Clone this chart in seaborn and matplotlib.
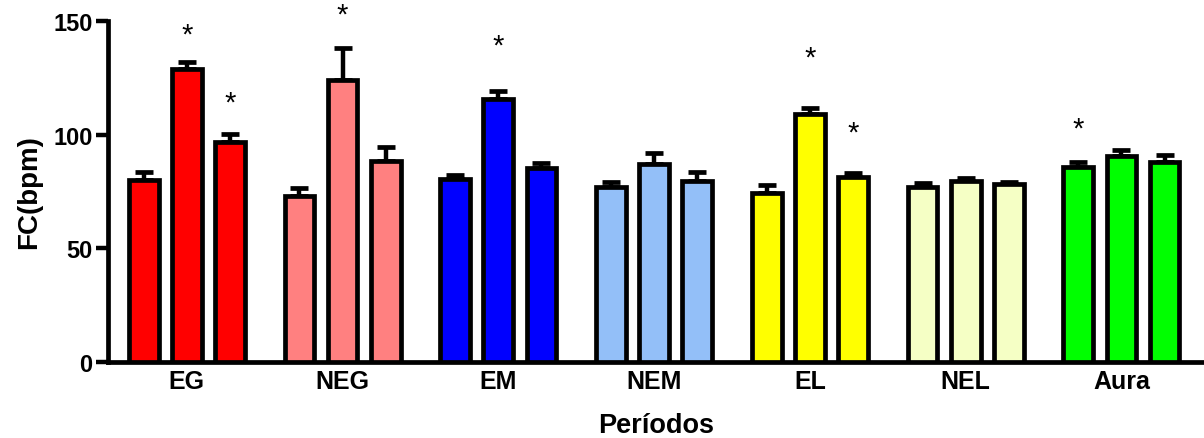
import numpy as np
import pandas as pd
import matplotlib
matplotlib.use("Agg")
import matplotlib.pyplot as plt
import seaborn as sns

# data
periods = ["EG", "NEG", "EM", "NEM", "EL", "NEL", "Aura"]
means_1 = [80.0, 73.2, 80.5, 77.1, 74.3, 77.1, 85.9]
means_2 = [129.0, 124.0, 115.7, 87.1, 109.1, 79.6, 90.7]
means_3 = [96.6, 88.4, 85.3, 79.6, 81.2, 78.1, 88.1]
sem_1 = [3.6, 3.5, 1.9, 2.2, 3.7, 1.5, 2.2]
sem_2 = [2.8, 14.0, 3.7, 4.7, 2.6, 1.2, 2.6]
sem_3 = [3.8, 6.2, 2.2, 3.8, 1.8, 1.2, 2.8]
group_colors = ["#FF0000", "#FF8080", "#0000FF", "#93BFF8",
                "#FFFF00", "#F5FFC5", "#00FF00"]
# (period index, bar index 0..2, height of asterisk)
stars = [(0, 1, 144.0), (0, 2, 114.2), (1, 1, 153.0), (2, 1, 139.3),
         (4, 1, 134.0), (4, 2, 101.0), (6, 0, 102.8)]

sns.set_style("white")
plt.rcParams["font.family"] = ["Liberation Sans", "DejaVu Sans"]
plt.rcParams["text.color"] = "black"
plt.rcParams["axes.labelcolor"] = "black"
plt.rcParams["xtick.color"] = "black"
plt.rcParams["ytick.color"] = "black"

df = pd.DataFrame({
    "periodo": periods * 3,
    "momento": ["1"] * 7 + ["2"] * 7 + ["3"] * 7,
    "fc": means_1 + means_2 + means_3,
})
sems = [sem_1, sem_2, sem_3]

fig = plt.figure(figsize=(12.04, 4.39), dpi=100)
ax = fig.add_axes([0.0897, 0.173, 0.9103, 0.777])

sns.barplot(data=df, x="periodo", y="fc", hue="momento", order=periods,
            width=0.83, gap=0.31, errorbar=None, legend=False,
            edgecolor="black", linewidth=3.4, ax=ax, zorder=3)

bar_conts = list(ax.containers)
for k, cont in enumerate(bar_conts):
    for i, bar in enumerate(cont.patches):
        bar.set_facecolor(group_colors[i])
        x = bar.get_x() + bar.get_width() / 2
        h = bar.get_height()
        ax.errorbar(x, h, yerr=[[0], [sems[k][i]]], fmt="none",
                    ecolor="black", elinewidth=3.2, capsize=6.5,
                    capthick=3.4, zorder=2)

for gi, bi, yy in stars:
    bar = bar_conts[bi].patches[gi]
    ax.text(bar.get_x() + bar.get_width() / 2, yy, "*", ha="center",
            va="center", fontsize=21, color="black", clip_on=False)

ax.set_xlim(-0.506, 6.53)
ax.set_ylim(0, 150)
ax.set_yticks([0, 50, 100, 150])
ax.set_xlabel("Períodos", fontsize=19.5, fontweight="bold", labelpad=14)
ax.set_ylabel("FC(bpm)", fontsize=20, fontweight="bold", labelpad=8)
ax.tick_params(axis="y", length=9, width=3.2, pad=2, labelsize=17, left=True)
ax.tick_params(axis="x", length=0, pad=5, labelsize=18)
for lab in ax.get_xticklabels() + ax.get_yticklabels():
    lab.set_fontweight("bold")

for s in ["top", "right"]:
    ax.spines[s].set_visible(False)
for s in ["left", "bottom"]:
    ax.spines[s].set_linewidth(3.4)
    ax.spines[s].set_color("black")

fig.savefig("out.png", dpi=100)
